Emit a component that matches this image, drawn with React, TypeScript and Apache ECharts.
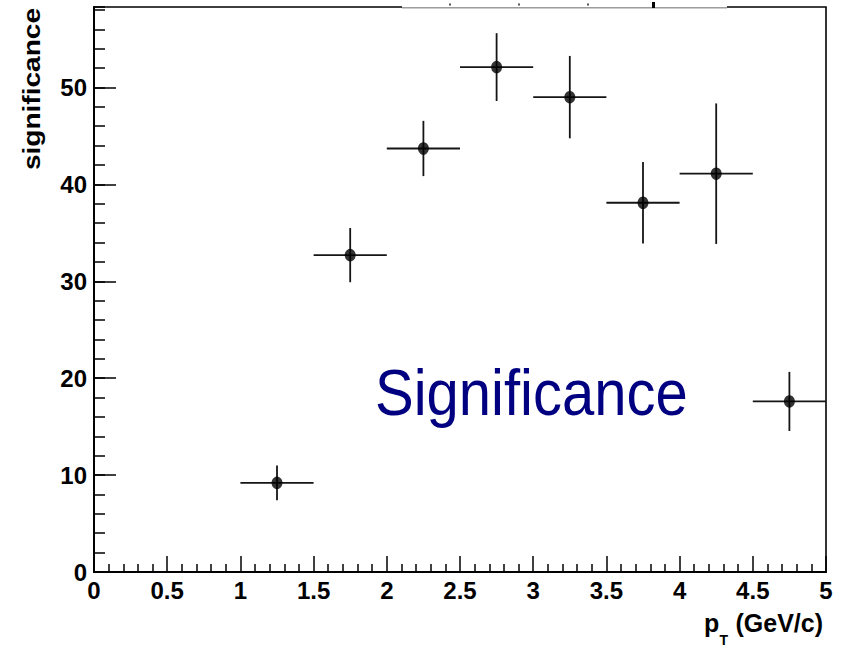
import React, { useEffect, useRef } from "react";
import * as echarts from "echarts";

const xCenters = [1.25, 1.75, 2.25, 2.75, 3.25, 3.75, 4.25, 4.75];
const significance = [9.2, 32.7, 43.7, 52.1, 49.0, 38.1, 41.1, 17.6];
const yErrors = [1.8, 2.8, 2.85, 3.5, 4.25, 4.2, 7.25, 3.05];
const xHalfWidths = [0.25, 0.25, 0.25, 0.25, 0.25, 0.25, 0.25, 0.25];

const X_MIN = 0;
const X_MAX = 5;
const Y_MIN = 0;
const Y_MAX = 58.3;

const tickFont = "'Liberation Sans', Arial, Helvetica, sans-serif";
const titleFont = "'Liberation Sans', Arial, Helvetica, sans-serif";

export default function App() {
  const ref = useRef<HTMLDivElement>(null);

  useEffect(() => {
    if (!ref.current) return;
    const chart = echarts.init(ref.current, undefined, { renderer: "svg" });

    const points = xCenters.map((x, i) => [x, significance[i]]);
    const bars = xCenters.map((x, i) => [x, significance[i], xHalfWidths[i], yErrors[i]]);

    const option: any = {
      animation: false,
      backgroundColor: "#ffffff",
      grid: {
        left: 94,
        right: 20,
        top: 7,
        bottom: 76,
        show: true,
        borderColor: "#000",
        borderWidth: 1.6,
        backgroundColor: "transparent",
      },
      xAxis: {
        type: "value",
        min: X_MIN,
        max: X_MAX,
        interval: 0.5,
        axisLine: { show: true, onZero: false, lineStyle: { color: "#000", width: 2 } },
        axisTick: { show: true, inside: true, length: 16, lineStyle: { color: "#000", width: 1.5 } },
        minorTick: { show: true, splitNumber: 5, length: 8, lineStyle: { color: "#000", width: 1.5 } },
        splitLine: { show: false },
        axisLabel: {
          margin: 6,
          color: "#000",
          fontFamily: tickFont,
          fontWeight: "bold",
          fontSize: 24,
        },
      },
      yAxis: [
        {
          type: "value",
          min: Y_MIN,
          max: Y_MAX,
          interval: 10,
          position: "left",
          axisLine: { show: true, onZero: false, lineStyle: { color: "#000", width: 2 } },
          axisTick: { show: true, inside: true, length: 22, lineStyle: { color: "#000", width: 1.5 } },
          splitLine: { show: false },
          axisLabel: {
            margin: 7,
            color: "#000",
            fontFamily: tickFont,
            fontWeight: "bold",
            fontSize: 24,
            showMaxLabel: false,
            padding: [6, 0, 0, 0],
          },
        },
        {
          type: "value",
          min: Y_MIN,
          max: Y_MAX,
          interval: 2,
          position: "left",
          axisLine: { show: false },
          axisTick: { show: true, inside: true, length: 11, lineStyle: { color: "#000", width: 1.5 } },
          splitLine: { show: false },
          axisLabel: { show: false },
        },
      ],
      series: [
        {
          type: "custom",
          xAxisIndex: 0,
          yAxisIndex: 0,
          data: bars,
          renderItem: (params: any, api: any) => {
            const x = api.value(0);
            const y = api.value(1);
            const dx = api.value(2);
            const dy = api.value(3);
            const left = api.coord([x - dx, y]);
            const right = api.coord([x + dx, y]);
            const top = api.coord([x, y + dy]);
            const bottom = api.coord([x, y - dy]);
            const style = { stroke: "#151515", lineWidth: 1.8 };
            return {
              type: "group",
              children: [
                { type: "line", shape: { x1: left[0], y1: left[1], x2: right[0], y2: right[1] }, style },
                { type: "line", shape: { x1: top[0], y1: top[1], x2: bottom[0], y2: bottom[1] }, style },
              ],
            };
          },
          z: 2,
        },
        {
          type: "scatter",
          xAxisIndex: 0,
          yAxisIndex: 0,
          data: points,
          symbol: "circle",
          symbolSize: [11, 12.5],
          itemStyle: { color: "#000" },
          z: 3,
        },
      ],
      graphic: [
        // gap in the top frame
        { type: "rect", shape: { x: 402, y: 0, width: 325, height: 7.6 }, style: { fill: "#fff" }, z: 100 },
        { type: "line", shape: { x1: 402, y1: 8, x2: 727, y2: 8 }, style: { stroke: "#9a9a9a", lineWidth: 1 }, z: 101 },
        { type: "rect", shape: { x: 449, y: 3.5, width: 2, height: 2 }, style: { fill: "#555" }, z: 101 },
        { type: "rect", shape: { x: 518, y: 3.5, width: 2, height: 2 }, style: { fill: "#555" }, z: 101 },
        { type: "rect", shape: { x: 587, y: 3.5, width: 2, height: 2 }, style: { fill: "#555" }, z: 101 },
        { type: "rect", shape: { x: 652, y: 2, width: 3, height: 6 }, style: { fill: "#000" }, z: 101 },
        // y axis title
        {
          type: "text",
          x: 32,
          y: 8,
          rotation: Math.PI / 2,
          scaleX: 1.22,
          style: {
            text: "significance",
            fontFamily: titleFont,
            fontWeight: "bold",
            fontSize: 23,
            fill: "#000",
            align: "right",
            verticalAlign: "middle",
          },
          z: 50,
        },
        // x axis title
        {
          type: "text",
          x: 704,
          y: 623.3,
          style: {
            text: "p",
            fontFamily: titleFont,
            fontWeight: "bold",
            fontSize: 25,
            fill: "#000",
            align: "left",
            verticalAlign: "middle",
          },
          z: 50,
        },
        {
          type: "text",
          x: 719.5,
          y: 639.5,
          style: {
            text: "T",
            fontFamily: titleFont,
            fontWeight: "bold",
            fontSize: 14,
            fill: "#000",
            align: "left",
            verticalAlign: "middle",
          },
          z: 50,
        },
        {
          type: "text",
          x: 823,
          y: 623.3,
          style: {
            text: "(GeV/c)",
            fontFamily: titleFont,
            fontWeight: "bold",
            fontSize: 25,
            fill: "#000",
            align: "right",
            verticalAlign: "middle",
          },
          z: 50,
        },
        // in-plot label
        {
          type: "text",
          x: 375,
          y: 392.3,
          scaleY: 1.13,
          style: {
            text: "Significance",
            fontFamily: titleFont,
            fontSize: 58,
            fill: "#000080",
            align: "left",
            verticalAlign: "middle",
          },
          z: 50,
        },
      ],
    };

    chart.setOption(option);
    return () => chart.dispose();
  }, []);

  return (
    <div
      ref={ref}
      style={{ position: "fixed", left: 0, top: 0, width: 846, height: 648, background: "#fff" }}
    />
  );
}
